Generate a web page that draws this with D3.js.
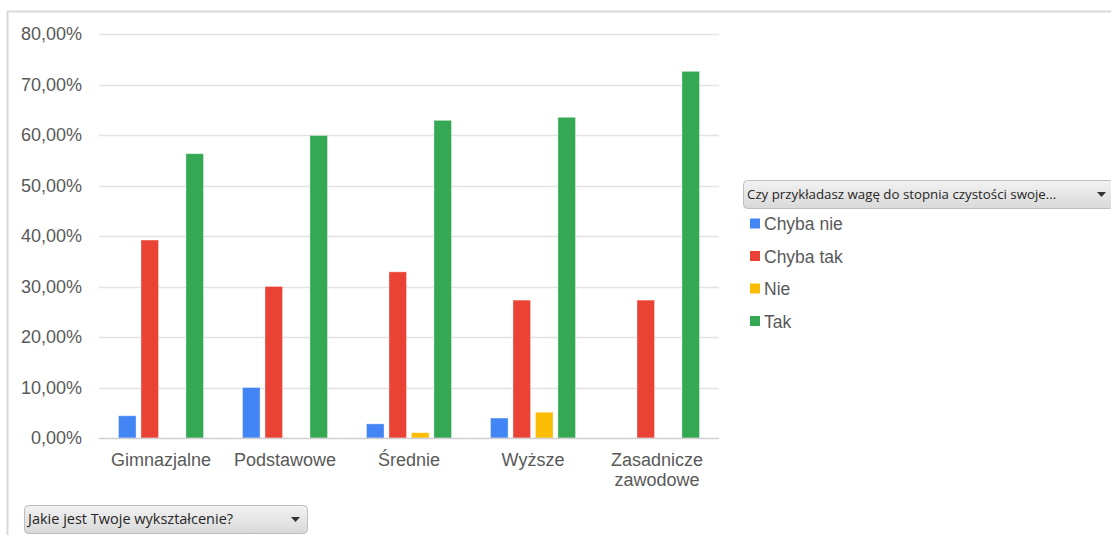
<!DOCTYPE html>
<html>
<head>
<meta charset="utf-8">
<script src="https://cdn.jsdelivr.net/npm/d3@7"></script>
<style>
  body { margin: 0; background: #fff; }
  svg { display: block; }
</style>
</head>
<body>
<script>
var width = 1111;
var height = 535;

// dane
var categories = ["Gimnazjalne", "Podstawowe", "Średnie", "Wyższe", "Zasadnicze zawodowe"];
var seriesNames = ["Chyba nie", "Chyba tak", "Nie", "Tak"];
var chybaNie = [4.4, 10.0, 2.8, 3.95, 0];
var chybaTak = [39.2, 30.0, 32.9, 27.3, 27.3];
var nie = [0, 0, 1.05, 5.1, 0];
var tak = [56.3, 59.9, 62.9, 63.5, 72.6];
var yTicks = [0, 10, 20, 30, 40, 50, 60, 70, 80];
var colors = ["#4285F4", "#EA4335", "#FBBC04", "#34A853"];
var legendTitle = "Czy przykładasz wagę do stopnia czystości swoje...";
var axisTitle = "Jakie jest Twoje wykształcenie?";

var seriesValues = [chybaNie, chybaTak, nie, tak];

var svg = d3.select("body").append("svg")
    .attr("width", width)
    .attr("height", height);

// gradient dla przycisków
var defs = svg.append("defs");
var grad = defs.append("linearGradient").attr("id", "btn").attr("x1", 0).attr("y1", 0).attr("x2", 0).attr("y2", 1);
grad.append("stop").attr("offset", "0%").attr("stop-color", "#f2f2f2");
grad.append("stop").attr("offset", "100%").attr("stop-color", "#d9d9d9");

// ramka
svg.append("path")
    .attr("d", "M7.5," + height + "V11.5H" + width)
    .attr("fill", "none")
    .attr("stroke", "#d9d9d9")
    .attr("stroke-width", 2);

var plot = { left: 99, right: 719, top: 34, bottom: 438 };

var x0 = d3.scaleBand()
    .domain(categories)
    .range([plot.left, plot.right])
    .paddingInner(0.315)
    .paddingOuter(0.1575);

var x1 = d3.scaleBand()
    .domain(seriesNames)
    .range([0, x0.bandwidth()])
    .paddingInner(0.22)
    .paddingOuter(0);

var y = d3.scaleLinear().domain([0, 80]).range([plot.bottom, plot.top]);

// siatka
svg.append("g")
    .selectAll("line")
    .data(yTicks.slice(1))
    .join("line")
    .attr("x1", plot.left)
    .attr("x2", plot.right)
    .attr("y1", d => Math.round(y(d)) + 0.5)
    .attr("y2", d => Math.round(y(d)) + 0.5)
    .attr("stroke", "#e3e3e3")
    .attr("stroke-width", 1.5);

// oś Y
var yAxis = d3.axisLeft(y)
    .tickValues(yTicks)
    .tickSize(0)
    .tickPadding(0)
    .tickFormat(d => d3.format(".2f")(d).replace(".", ",") + "%");

svg.append("g")
    .attr("transform", "translate(82,0)")
    .call(yAxis)
    .call(g => g.select(".domain").remove())
    .selectAll("text")
    .attr("font-family", "'Liberation Sans', Arial, sans-serif")
    .attr("font-size", 18)
    .attr("fill", "#595959");

// słupki
var groups = svg.append("g")
    .selectAll("g")
    .data(categories)
    .join("g")
    .attr("transform", d => "translate(" + x0(d) + ",0)");

groups.selectAll("rect")
    .data((c, i) => seriesNames.map((s, j) => ({ s: s, v: seriesValues[j][i], c: colors[j] })))
    .join("rect")
    .filter(d => d.v > 0)
    .attr("x", d => x1(d.s))
    .attr("width", x1.bandwidth())
    .attr("y", d => y(d.v))
    .attr("height", d => y(0) - y(d.v))
    .attr("fill", d => d.c)
    .attr("stroke", "rgba(255,255,255,0.35)")
    .attr("stroke-width", 1);

// linia bazowa
svg.append("line")
    .attr("x1", plot.left)
    .attr("x2", plot.right)
    .attr("y1", plot.bottom + 0.5)
    .attr("y2", plot.bottom + 0.5)
    .attr("stroke", "#cfcfcf")
    .attr("stroke-width", 1.5);

// oś X
var xAxis = d3.axisBottom(x0).tickSize(0).tickPadding(0);
var xg = svg.append("g")
    .attr("transform", "translate(0," + plot.bottom + ")")
    .call(xAxis)
    .call(g => g.select(".domain").remove());

xg.selectAll("text").each(function (d) {
    var t = d3.select(this);
    var words = d.split(" ");
    t.text(null)
        .attr("y", 0)
        .attr("dy", null)
        .attr("font-family", "'Liberation Sans', Arial, sans-serif")
        .attr("font-size", 18)
        .attr("fill", "#595959");
    words.forEach((w, i) => {
        t.append("tspan").attr("x", 0).attr("y", 28 + i * 20).text(w);
    });
});

// legenda
function button(g, x, yy, w, h, label, fs) {
    g.append("rect")
        .attr("x", x + 0.5).attr("y", yy + 0.5)
        .attr("width", w).attr("height", h)
        .attr("rx", 4)
        .attr("fill", "url(#btn)")
        .attr("stroke", "#bdbdbd");
    g.append("text")
        .attr("x", x + 4).attr("y", yy + h / 2 + 5)
        .attr("font-family", "'Open Sans', 'Noto Sans', sans-serif")
        .attr("font-size", fs)
        .attr("fill", "#262626")
        .text(label);
    g.append("path")
        .attr("d", "M" + (x + w - 16) + "," + (yy + h / 2 - 2) + "h9l-4.5,5z")
        .attr("fill", "#333");
}

var legend = svg.append("g");
button(legend, 743, 180, 370, 28, legendTitle, 13.3);

var items = legend.selectAll("g.item")
    .data(seriesNames)
    .join("g")
    .attr("class", "item")
    .attr("transform", (d, i) => "translate(750," + (223.5 + i * 32.5) + ")");

items.append("rect")
    .attr("x", 0).attr("y", -5)
    .attr("width", 10).attr("height", 10)
    .attr("fill", (d, i) => colors[i]);

items.append("text")
    .attr("x", 14).attr("y", 6.5)
    .attr("font-family", "'Liberation Sans', Arial, sans-serif")
    .attr("font-size", 17.5)
    .attr("fill", "#595959")
    .text(d => d);

button(svg.append("g"), 24, 505, 283, 28, axisTitle, 14.5);
</script>
</body>
</html>
